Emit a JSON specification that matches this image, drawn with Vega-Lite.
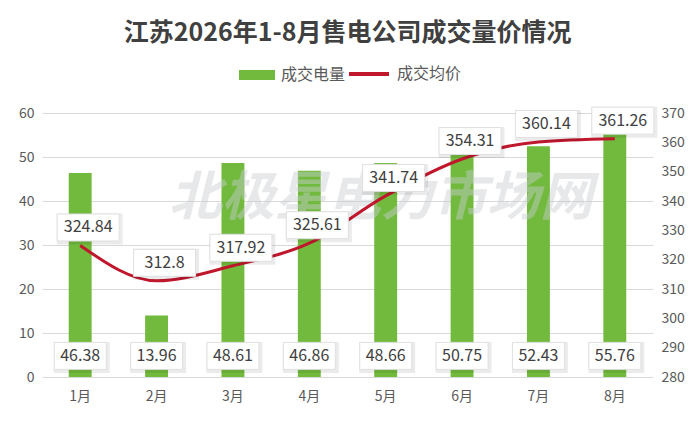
{
  "$schema": "https://vega.github.io/schema/vega-lite/v6.json",
  "autosize": "none",
  "width": 611,
  "height": 264,
  "padding": {"left": 42, "top": 113, "right": 47, "bottom": 46},
  "background": "white",
  "title": {
    "text": "江苏2026年1-8月售电公司成交量价情况",
    "fontSize": 25,
    "fontWeight": "bold",
    "color": "#404040",
    "font": "Noto Sans CJK SC",
    "anchor": "middle",
    "offset": 6
  },
  "data": {
    "values": [
      {"month": "1月", "volume": 46.38, "price": 324.84},
      {"month": "2月", "volume": 13.96, "price": 312.8},
      {"month": "3月", "volume": 48.61, "price": 317.92},
      {"month": "4月", "volume": 46.86, "price": 325.61},
      {"month": "5月", "volume": 48.66, "price": 341.74},
      {"month": "6月", "volume": 50.75, "price": 354.31},
      {"month": "7月", "volume": 52.43, "price": 360.14},
      {"month": "8月", "volume": 55.76, "price": 361.26}
    ]
  },
  "encoding": {
    "x": {
      "field": "month",
      "type": "ordinal",
      "sort": null,
      "title": null,
      "scale": {"paddingInner": 0.7, "paddingOuter": 0.35},
      "axis": {"labelAngle": 0, "domain": false, "ticks": false, "labelPadding": 12, "grid": false}
    }
  },
  "layer": [
    {
      "layer": [
        {
          "mark": {"type": "bar", "color": "#72BA3E"},
          "encoding": {
            "y": {
              "field": "volume",
              "type": "quantitative",
              "title": null,
              "scale": {"domain": [0, 60], "nice": false},
              "axis": {"orient": "left", "values": [0, 10, 20, 30, 40, 50, 60], "grid": true, "domain": false, "ticks": false, "labelPadding": 8, "labelOverlap": false}
            },
            "fill": {
              "datum": "成交电量",
              "title": null,
              "scale": {"range": ["#72BA3E"]},
              "legend": {"orient": "none", "legendX": 197, "legendY": -56, "symbolType": "M-1,-0.28H1V0.28H-1Z", "symbolSize": 1296, "symbolStrokeWidth": 0}
            }
          }
        },
        {
          "data": {"values": [{"wm": "北极星电力市场网"}]},
          "mark": {"type": "text", "fontSize": 53, "fontWeight": "bold", "fontStyle": "italic", "font": "Noto Sans CJK SC", "fill": "#c8ccd0", "fillOpacity": 0.45, "dx": -5},
          "encoding": {
            "x": {"datum": "5月"},
            "y": {"datum": 40.5, "type": "quantitative", "title": null},
            "text": {"field": "wm", "type": "nominal"}
          }
        },
        {
          "mark": {"type": "point", "shape": "M-1.019,-0.538H1.135V0.654H-1.019Z", "size": 2704, "filled": true, "color": "#000000", "opacity": 0.08, "strokeWidth": 0},
          "encoding": {
            "y": {"datum": 4.8, "type": "quantitative", "title": null}
          }
        },
        {
          "mark": {"type": "point", "shape": "M-1,-0.519H1V0.519H-1Z", "size": 2704, "filled": true, "fill": "white", "stroke": "#e0e0e0", "strokeWidth": 1, "opacity": 1},
          "encoding": {
            "y": {"datum": 4.8, "type": "quantitative", "title": null}
          }
        },
        {
          "mark": {"type": "text", "fontSize": 16, "font": "Noto Sans CJK SC", "color": "#404040"},
          "encoding": {
            "y": {"datum": 4.8, "type": "quantitative", "title": null},
            "text": {"field": "volume", "type": "quantitative", "format": ".2f"}
          }
        }
      ]
    },
    {
      "encoding": {
        "y": {
          "field": "price",
          "type": "quantitative",
          "title": null,
          "scale": {"domain": [280, 370], "nice": false, "zero": false},
          "axis": {"orient": "right", "values": [280, 290, 300, 310, 320, 330, 340, 350, 360, 370], "grid": false, "domain": false, "ticks": false, "labelPadding": 8, "labelOverlap": false}
        }
      },
      "layer": [
        {
          "mark": {"type": "line", "interpolate": "monotone", "strokeWidth": 3},
          "encoding": {
            "stroke": {
              "datum": "成交均价",
              "title": null,
              "scale": {"range": ["#C0172D"]},
              "legend": {"orient": "none", "legendX": 305, "legendY": -61, "symbolType": "M-1,0H1", "symbolSize": 1600, "symbolStrokeWidth": 4}
            }
          }
        },
        {
          "mark": {"type": "point", "shape": "M-0.758,-1.032H1.371V-0.032H-0.758Z", "size": 3844, "filled": true, "color": "#000000", "opacity": 0.08, "strokeWidth": 0}
        },
        {
          "mark": {"type": "point", "shape": "M-0.742,-1.016H1.258V-0.145H-0.742Z", "size": 3844, "filled": true, "fill": "white", "stroke": "#e0e0e0", "strokeWidth": 1, "opacity": 1}
        },
        {
          "mark": {"type": "text", "fontSize": 16, "font": "Noto Sans CJK SC", "color": "#404040", "dx": 8, "dy": -18},
          "encoding": {
            "text": {"field": "price", "type": "quantitative"}
          }
        }
      ]
    }
  ],
  "resolve": {"scale": {"y": "independent"}},
  "config": {
    "view": {"stroke": null},
    "font": "Noto Sans CJK SC",
    "axis": {"labelFont": "Noto Sans CJK SC", "labelFontSize": 14, "labelColor": "#595959", "gridColor": "#d9d9d9", "gridWidth": 1},
    "legend": {"labelFont": "Noto Sans CJK SC", "labelFontSize": 16, "labelColor": "#595959", "direction": "horizontal", "padding": 0, "labelOffset": 6}
  }
}
